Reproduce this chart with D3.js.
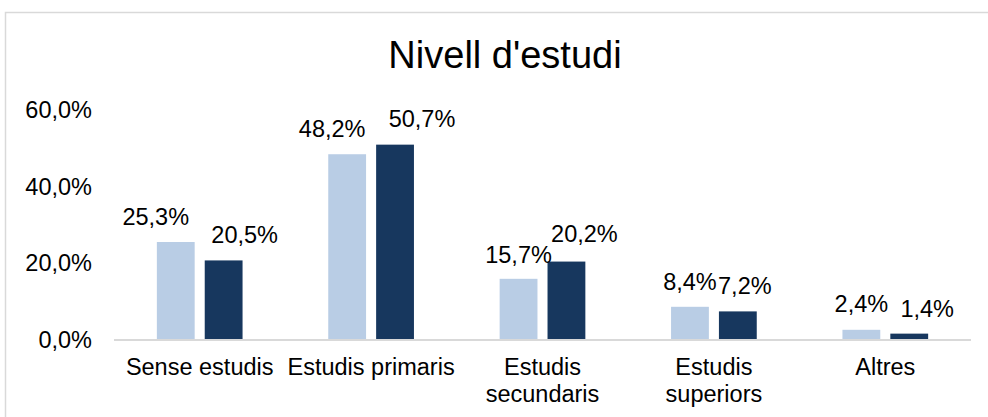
<!DOCTYPE html>
<html>
<head>
<meta charset="utf-8">
<script src="https://cdn.jsdelivr.net/npm/d3@7/dist/d3.min.js"></script>
<style>
  html, body { margin: 0; padding: 0; background: #fff; }
  svg { display: block; font-family: "Liberation Sans", Arial, sans-serif; }
</style>
</head>
<body>
<svg id="chart" width="988" height="417"></svg>
<script>
// ---- data ----
const title = "Nivell d'estudi";
const categories = [["Sense estudis"], ["Estudis primaris"], ["Estudis", "secundaris"], ["Estudis", "superiors"], ["Altres"]];
const seriesNames = ["Sèrie 1", "Sèrie 2"];
const seriesA = [25.3, 48.2, 15.7, 8.4, 2.4];
const seriesB = [20.5, 50.7, 20.2, 7.2, 1.4];
const yTicks = [0, 20, 40, 60];

// ---- layout ----
const W = 988, H = 417;
const plot = { left: 114, right: 971, top: 109, bottom: 339 };
const colors = ["#b9cde5", "#17375e"];
// label nudges (Excel-like collision avoidance), px
const labelDx = [[-20, 21], [-15, 27], [0, 18], [0, 7], [0, 18]];
const labelDy = [[-17, -17], [-17, -18], [-16, -20], [-17, -17], [-18, -17]];

const svg = d3.select("#chart");

svg.append("rect")
  .attr("x", 5.5).attr("y", 12.5).attr("width", 990).attr("height", 420)
  .attr("fill", "#fff").attr("stroke", "#d9d9d9").attr("stroke-width", 1.5);

const x = d3.scaleBand()
  .domain(d3.range(categories.length))
  .range([plot.left, plot.right])
  .paddingInner(0.5).paddingOuter(0.25);

const xs = d3.scaleBand()
  .domain([0, 1])
  .range([0, x.bandwidth()])
  .paddingInner(0.21).paddingOuter(0);

const y = d3.scaleLinear().domain([0, 60]).range([plot.bottom, plot.top]);

// title
svg.append("text")
  .attr("x", 505).attr("y", 68)
  .attr("text-anchor", "middle")
  .attr("font-size", 38)
  .attr("fill", "#000")
  .text(title);

// y axis labels (no line)
const yAxis = d3.axisLeft(y).tickValues(yTicks).tickSize(0).tickPadding(0)
  .tickFormat(d => d3.format(".1f")(d).replace(".", ",") + "%");
const gy = svg.append("g").attr("transform", `translate(92,0)`).call(yAxis);
gy.select(".domain").remove();
gy.selectAll("text").attr("font-size", 23.5).attr("fill", "#000")
  .attr("font-family", "Liberation Sans, Arial, sans-serif").attr("dy", "0.36em");

// bars
const series = [seriesA, seriesB];
series.forEach((vals, si) => {
  svg.append("g").selectAll("rect")
    .data(vals)
    .join("rect")
    .attr("x", (d, i) => x(i) + xs(si))
    .attr("y", d => y(d))
    .attr("width", xs.bandwidth())
    .attr("height", d => y(0) - y(d))
    .attr("fill", colors[si]);
});

// x axis baseline
svg.append("line")
  .attr("x1", plot.left).attr("x2", plot.right)
  .attr("y1", y(0) + 1).attr("y2", y(0) + 1)
  .attr("stroke", "#d9d9d9").attr("stroke-width", 2);

// value labels
series.forEach((vals, si) => {
  svg.append("g").selectAll("text")
    .data(vals)
    .join("text")
    .attr("x", (d, i) => x(i) + xs(si) + xs.bandwidth() / 2 + labelDx[i][si])
    .attr("y", (d, i) => y(d) + labelDy[i][si])
    .attr("text-anchor", "middle")
    .attr("font-size", 23.5)
    .attr("fill", "#000")
    .text(d => d3.format(".1f")(d).replace(".", ",") + "%");
});

// category labels
const gx = svg.append("g");
categories.forEach((lines, i) => {
  const t = gx.append("text")
    .attr("x", x(i) + x.bandwidth() / 2)
    .attr("y", 375)
    .attr("text-anchor", "middle")
    .attr("font-size", 23.5)
    .attr("fill", "#000");
  lines.forEach((ln, li) => {
    t.append("tspan")
      .attr("x", x(i) + x.bandwidth() / 2)
      .attr("dy", li === 0 ? 0 : 27)
      .text(ln);
  });
});
</script>
</body>
</html>
